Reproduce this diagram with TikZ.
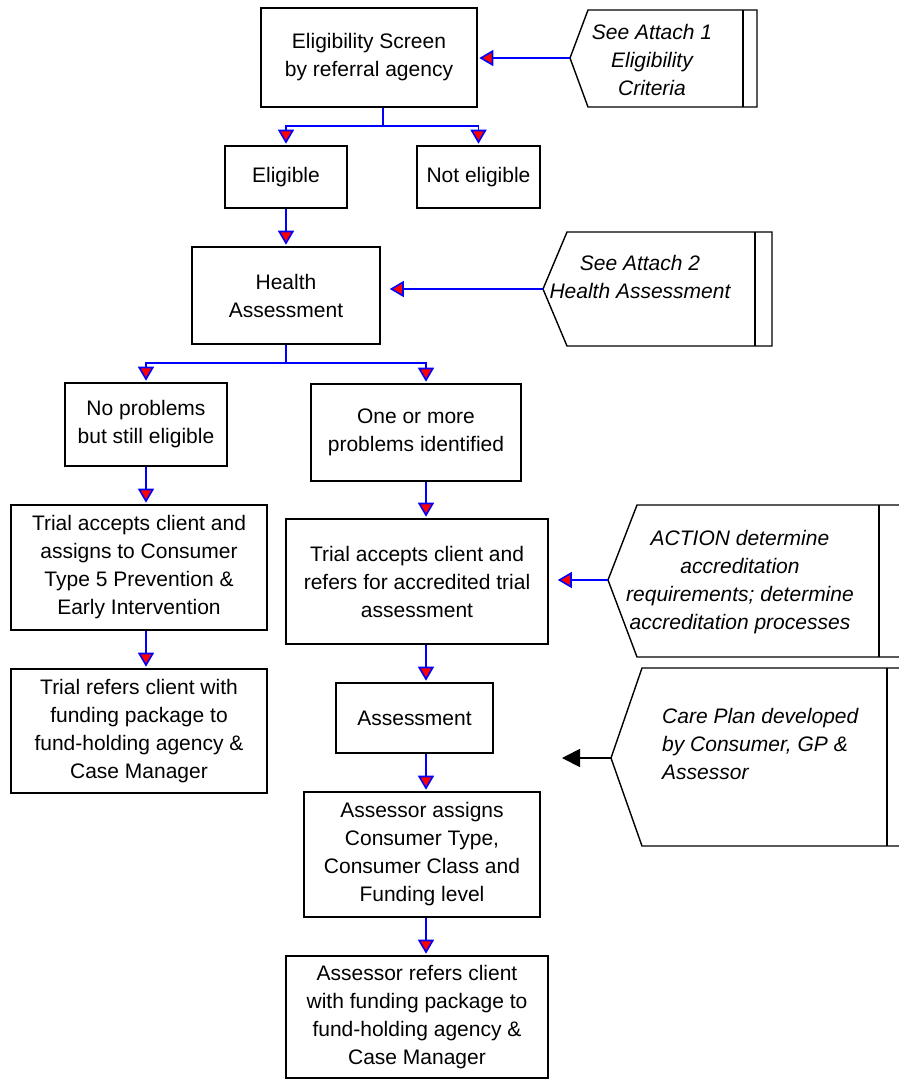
\documentclass[tikz,border=0pt]{standalone}
\usepackage{fontspec}
\setmainfont{Liberation Sans}
\usetikzlibrary{arrows.meta}

\tikzset{
    stepbox/.style={draw, line width=1.6pt, align=center, inner sep=0pt, font=\fontsize{21}{28}\selectfont},
    notetext/.style={align=center, inner sep=0pt, font=\fontsize{21}{28}\selectfont\itshape},
    callout/.style={draw, line width=1.4pt, line join=miter},
    flow/.style={draw=blue, line width=1.6pt, -{Triangle[fill=red, length=14pt, width=16pt]}, shorten >=1.5pt},
    blackflow/.style={draw=black, line width=1.8pt, -{Triangle[length=18pt, width=18pt]}}
}

\begin{document}
\begin{tikzpicture}[x=1pt, y=-1pt]
        \useasboundingbox (0,0) rectangle (899,1080);

        \node [stepbox, minimum width=216pt, minimum height=99pt] (escreen) at (369,57.5) {Eligibility Screen\\by referral agency};
        \node [stepbox, minimum width=122pt, minimum height=62pt] (eligible) at (286,177) {Eligible};
        \node [stepbox, minimum width=123pt, minimum height=62pt] (noteligible) at (478.5,177) {Not eligible};
        \node [stepbox, minimum width=188pt, minimum height=97pt] (health) at (286,295.5) {Health\\Assessment};
        \node [stepbox, minimum width=162pt, minimum height=83pt] (noprob) at (146,424.5) {No problems\\but still eligible};
        \node [stepbox, minimum width=210pt, minimum height=97pt] (oneprob) at (416,432.5) {One or more\\problems identified};
        \node [stepbox, minimum width=256pt, minimum height=125pt] (trialacc) at (139,567.5) {Trial accepts client and\\assigns to Consumer\\Type 5 Prevention \&\\Early Intervention};
        \node [stepbox, minimum width=256pt, minimum height=124pt] (trialfund) at (139,731) {Trial refers client with\\funding package to\\fund-holding agency \&\\Case Manager};
        \node [stepbox, minimum width=262pt, minimum height=125pt] (trialref) at (417,581.5) {Trial accepts client and\\refers for accredited trial\\assessment};
        \node [stepbox, minimum width=157pt, minimum height=70pt] (assess) at (414.5,718) {Assessment};
        \node [stepbox, minimum width=236pt, minimum height=125pt] (assign) at (422,854.5) {Assessor assigns\\Consumer Type,\\Consumer Class and\\Funding level};
        \node [stepbox, minimum width=262pt, minimum height=122pt] (assfund) at (417,1017) {Assessor refers client\\with funding package to\\fund-holding agency \&\\Case Manager};

        \coordinate (att1) at (570,58);
        \coordinate (att2) at (543,289);
        \coordinate (att3) at (608,580);
        \coordinate (att4) at (611,758);
        \coordinate (att4end) at (562,758);
        \draw [callout] (att1) -- (588,10) -- (757,10) -- (757,107) -- (588,107) -- cycle;
        \draw [callout] (743,10) -- (743,107);
        \draw [callout] (att2) -- (567,232) -- (772,232) -- (772,346) -- (567,346) -- cycle;
        \draw [callout] (755,232) -- (755,346);
        \draw [callout] (910,505) -- (637,505) -- (att3) -- (637,657) -- (910,657);
        \draw [callout] (879,505) -- (879,657);
        \draw [callout] (910,668) -- (642,668) -- (att4) -- (642,846) -- (910,846);
        \draw [callout] (887,668) -- (887,846);
        \node [notetext] (note1) at (652,60) {See Attach 1\\Eligibility\\Criteria};
        \node [notetext] (note2) at (640,277) {See Attach 2\\Health Assessment};
        \node [notetext] (note3) at (740,582) {ACTION determine\\accreditation\\requirements; determine\\accreditation processes};
        \node [notetext, align=left, anchor=north west] (note4) at (662,708) {Care Plan developed\\by Consumer, GP \&\\Assessor};

        \coordinate (esplit) at (383,126);
        \coordinate (hsplit) at (286,363);
        \coordinate (leftline) at (146,0);
        \coordinate (midline) at (426,0);

        \draw [flow] (att1) -- (att1 -| escreen.east);
        \draw [flow, shorten >=9pt] (att2) -- (att2 -| health.east);
        \draw [flow, shorten >=9pt] (att3) -- (att3 -| trialref.east);
        \draw [blackflow] (att4) -- (att4end);

        \draw [flow, -] (escreen.south -| esplit) -- (esplit);
        \draw [flow] (esplit) -| (eligible.north);
        \draw [flow] (esplit) -| (noteligible.north);
        \draw [flow] (eligible.south) -- (health.north);
        \draw [flow, -] (health.south) -- (hsplit);
        \draw [flow] (hsplit) -| (noprob.north);
        \draw [flow] (hsplit) -| (oneprob.north -| midline);
        \draw [flow] (noprob.south) -- (trialacc.north -| leftline);
        \draw [flow] (trialacc.south -| leftline) -- (trialfund.north -| leftline);
        \draw [flow] (oneprob.south -| midline) -- (trialref.north -| midline);
        \draw [flow] (trialref.south -| midline) -- (assess.north -| midline);
        \draw [flow] (assess.south -| midline) -- (assign.north -| midline);
        \draw [flow] (assign.south -| midline) -- (assfund.north -| midline);
    \end{tikzpicture}
\end{document}
